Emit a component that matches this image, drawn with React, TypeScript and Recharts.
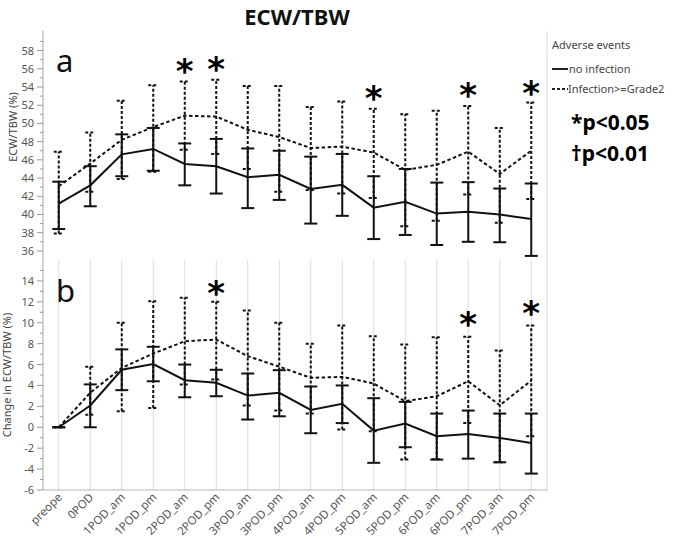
import React from 'react';
import { ComposedChart, Line, XAxis, YAxis, CartesianGrid, ErrorBar, ReferenceDot } from 'recharts';

const categories = ['preope', '0POD', '1POD_am', '1POD_pm', '2POD_am', '2POD_pm', '3POD_am', '3POD_pm', '4POD_am', '4POD_pm', '5POD_am', '5POD_pm', '6POD_am', '6POD_pm', '7POD_am', '7POD_pm'];

// Panel a: ECW/TBW (%)
const ratioNoInfMean = [41.2, 43.2, 46.6, 47.2, 45.55, 45.3, 44.1, 44.35, 42.8, 43.25, 40.75, 41.4, 40.1, 40.3, 40.0, 39.5];
const ratioNoInfUpper = [43.6, 45.3, 48.8, 49.5, 47.8, 48.3, 47.25, 47.0, 46.35, 46.65, 44.2, 45.0, 43.5, 43.55, 42.85, 43.4];
const ratioNoInfLower = [38.4, 40.9, 44.2, 44.8, 43.2, 42.3, 40.7, 41.6, 39.0, 39.85, 37.3, 37.75, 36.65, 37.0, 36.95, 35.45];
const ratioInfMean = [43.1, 45.6, 48.2, 49.6, 50.85, 50.75, 49.3, 48.5, 47.3, 47.45, 46.8, 44.9, 45.45, 46.9, 44.45, 47.0];
const ratioInfUpper = [46.9, 49.0, 52.5, 54.2, 54.6, 54.8, 54.1, 54.1, 51.8, 52.4, 51.6, 51.0, 51.4, 51.9, 49.5, 52.3];
const ratioInfLower = [37.9, 42.5, 43.9, 44.7, 47.1, 46.65, 45.0, 42.5, 42.7, 42.3, 41.8, 38.7, 39.3, 42.2, 39.1, 41.7];

// Panel b: Change in ECW/TBW (%)
const changeNoInfMean = [0, 2.08, 5.5, 6.05, 4.5, 4.25, 3.03, 3.29, 1.66, 2.24, -0.32, 0.35, -0.86, -0.64, -1.02, -1.5];
const changeNoInfUpper = [0, 4.1, 7.45, 7.7, 6.0, 5.5, 5.14, 5.46, 3.9, 4.0, 2.78, 2.43, 1.31, 1.6, 1.31, 1.31];
const changeNoInfLower = [0, 0, 3.55, 4.4, 2.87, 2.97, 0.74, 1.05, -0.57, 0.4, -3.4, -1.91, -3.09, -3.0, -3.35, -4.43];
const changeInfMean = [0, 3.3, 5.68, 7.05, 8.23, 8.39, 6.8, 5.8, 4.73, 4.82, 4.18, 2.49, 2.97, 4.4, 2.1, 4.47];
const changeInfUpper = [0, 5.78, 10.0, 12.06, 12.38, 12.0, 11.17, 10.0, 7.98, 9.73, 8.71, 7.91, 8.61, 8.65, 7.34, 9.73];
const changeInfLower = [0, 1.2, 1.53, 1.85, 4.09, 4.56, 2.08, 1.6, 1.31, -0.22, -0.38, -3.09, -3.05, 0.42, -3.35, -0.86];

// significance markers (category, y position of the asterisk)
const sigRatio = [
  { cat: '2POD_am', y: 56.4 },
  { cat: '2POD_pm', y: 56.6 },
  { cat: '5POD_am', y: 53.5 },
  { cat: '6POD_pm', y: 53.75 },
  { cat: '7POD_pm', y: 54.05 },
];
const sigChange = [
  { cat: '2POD_pm', y: 13.44 },
  { cat: '6POD_pm', y: 10.43 },
  { cat: '7POD_pm', y: 11.48 },
];

const ratioTicks = [36, 37, 38, 39, 40, 41, 42, 43, 44, 45, 46, 47, 48, 49, 50, 51, 52, 53, 54, 55, 56, 57, 58, 59];
const changeTicks = [-6, -5, -4, -3, -2, -1, 0, 1, 2, 3, 4, 5, 6, 7, 8, 9, 10, 11, 12, 13, 14, 15];

const build = (m1: number[], u1: number[], l1: number[], m2: number[], u2: number[], l2: number[]) =>
  categories.map((cat, i) => ({
    cat,
    a: m1[i],
    aErr: [m1[i] - l1[i], u1[i] - m1[i]],
    b: m2[i],
    bErr: [m2[i] - l2[i], u2[i] - m2[i]],
  }));

const ratioData = build(ratioNoInfMean, ratioNoInfUpper, ratioNoInfLower, ratioInfMean, ratioInfUpper, ratioInfLower);
const changeData = build(changeNoInfMean, changeNoInfUpper, changeNoInfLower, changeInfMean, changeInfUpper, changeInfLower);

const FONT = '"Noto Sans", "DejaVu Sans", sans-serif';
const FRAME = '#b5b5b5';
const GRID = '#dcdcdc';
const TICKC = '#555';

const YTick = (props: any) => {
  const { x, y, payload } = props;
  const major = Math.abs(payload.value % 2) === 0;
  return (
    <g>
      <line x1={x - (major ? 6 : 3)} x2={x} y1={y} y2={y} stroke="#999" strokeWidth={1} />
      {major && (
        <text x={x - 9} y={y} dy={4} textAnchor="end" fontSize={11} fontFamily={FONT} fill={TICKC}>
          {payload.value}
        </text>
      )}
    </g>
  );
};

const XTick = (props: any) => {
  const { x, y, payload } = props;
  const ax = x + 4;
  const ay = y + 8;
  return (
    <text x={ax} y={ay} transform={`rotate(-45 ${ax} ${ay})`} textAnchor="end" fontSize={11.5} fontFamily={FONT} fill={TICKC}>
      {payload.value}
    </text>
  );
};

const Star = (props: any) => (
  <text x={props.cx} y={props.cy + 18} textAnchor="middle" fontSize={34} fontWeight="bold" fontFamily='"DejaVu Sans", sans-serif' fill="#000">
    *
  </text>
);

const Panel = ({ data, domain, ticks, sig, showX, height, margin }: any) => (
  <ComposedChart width={685} height={height} data={data} margin={margin}>
    <CartesianGrid horizontal={false} vertical={true} stroke={GRID} />
    <XAxis
      dataKey="cat"
      scale="band"
      interval={0}
      height={showX ? 49 : 0}
      tickLine={false}
      tickSize={0}
      tickMargin={0}
      axisLine={{ stroke: FRAME }}
      tick={showX ? <XTick /> : false}
    />
    <XAxis xAxisId="top" orientation="top" dataKey="cat" scale="band" height={0} tick={false} tickLine={false} axisLine={{ stroke: FRAME }} />
    <YAxis
      domain={domain}
      allowDataOverflow
      ticks={ticks}
      interval={0}
      width={43}
      tickLine={false}
      tickSize={0}
      tickMargin={0}
      axisLine={{ stroke: FRAME }}
      tick={<YTick />}
    />
    <YAxis yAxisId="r" orientation="right" width={0} tick={false} tickLine={false} axisLine={{ stroke: FRAME }} />
    <Line dataKey="b" stroke="#111" strokeWidth={2} strokeDasharray="3.5 2.5" dot={false} isAnimationActive={false}>
      <ErrorBar dataKey="bErr" width={5} stroke="#111" strokeWidth={2} strokeDasharray="3 2" isAnimationActive={false} />
    </Line>
    <Line dataKey="a" stroke="#111" strokeWidth={2} dot={false} isAnimationActive={false}>
      <ErrorBar dataKey="aErr" width={6.5} stroke="#111" strokeWidth={2} isAnimationActive={false} />
    </Line>
    {sig.map((s: any) => (
      <ReferenceDot key={s.cat} x={s.cat} y={s.y} r={0} shape={<Star />} />
    ))}
  </ComposedChart>
);

export default function App() {
  return (
    <div style={{ position: 'absolute', left: 0, top: 0, width: 685, height: 539, background: '#fff' }}>
      <div style={{ position: 'absolute', left: 0, top: 0 }}>
        <Panel
          data={ratioData}
          domain={[35, 60.15]}
          ticks={ratioTicks}
          sig={sigRatio}
          showX={false}
          height={262}
          margin={{ top: 31, right: 138, bottom: 2, left: 0 }}
        />
      </div>
      <div style={{ position: 'absolute', left: 0, top: 260 }}>
        <Panel
          data={changeData}
          domain={[-6, 16]}
          ticks={changeTicks}
          sig={sigChange}
          showX={true}
          height={279}
          margin={{ top: 0, right: 138, bottom: 0, left: 0 }}
        />
      </div>
      <svg width={685} height={539} style={{ position: 'absolute', left: 0, top: 0, pointerEvents: 'none' }}>
        <text x={297} y={25} textAnchor="middle" fontSize={22} fontWeight="bold" fontFamily={FONT} fill="#111">
          ECW/TBW
        </text>
        <text x={56} y={72} fontSize={31} fontFamily={FONT} fill="#111">a</text>
        <text x={56} y={302} fontSize={31} fontFamily={FONT} fill="#111">b</text>
        <text x={17} y={127} transform="rotate(-90 17 127)" textAnchor="middle" fontSize={11} fontFamily={FONT} fill="#444">
          ECW/TBW (%)
        </text>
        <text x={11} y={375} transform="rotate(-90 11 375)" textAnchor="middle" fontSize={11} fontFamily={FONT} fill="#444">
          Change in ECW/TBW (%)
        </text>
        <text x={552} y={49} fontSize={11} fontFamily={FONT} fill="#444">Adverse events</text>
        <line x1={552} x2={568} y1={69} y2={69} stroke="#222" strokeWidth={2} />
        <text x={569} y={73} fontSize={11} fontFamily={FONT} fill="#444">no infection</text>
        <line x1={552} x2={568} y1={89} y2={89} stroke="#222" strokeWidth={2} strokeDasharray="3 2" />
        <text x={568} y={93} fontSize={11} fontFamily={FONT} fill="#444">Infection&gt;=Grade2</text>
        <text x={571} y={130} fontSize={21} fontWeight="bold" fontFamily={FONT} fill="#000">*p&lt;0.05</text>
        <text x={571} y={161} fontSize={21} fontWeight="bold" fontFamily={FONT} fill="#000">†p&lt;0.01</text>
      </svg>
    </div>
  );
}
